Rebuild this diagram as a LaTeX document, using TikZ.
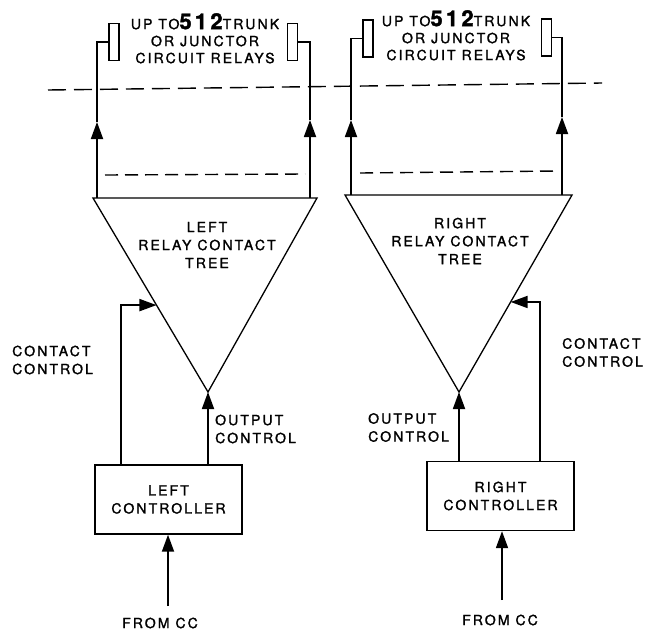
\documentclass[tikz,border=0pt]{standalone}
\usepackage{fontspec}
\setmainfont{TeX Gyre Heros}[LetterSpace=15,FakeBold=1.6]
\usetikzlibrary{arrows.meta,calc}
\tikzset{
  lbl/.style={font=\fontsize{14}{18}\selectfont, align=center, inner sep=0pt},
  wire/.style={line width=1.8pt},
  thinline/.style={line width=1.3pt, line join=miter},
  arr/.style={-{Triangle[length=17pt,width=12pt]}},
  relay/.style={draw, line width=1.4pt, minimum width=10pt, minimum height=37pt, inner sep=0pt},
  ctrlbox/.style={draw, line width=1.4pt, minimum width=147pt, minimum height=69pt, inner sep=0pt, font=\fontsize{14}{18}\selectfont, align=center},
  longdash/.style={line width=1.4pt, dash pattern=on 18pt off 8pt},
  shortdash/.style={line width=1.4pt, dash pattern=on 13pt off 7pt}
}
\newcommand{\bignum}[1]{{\fontsize{22}{22}\selectfont\bfseries #1}}
\begin{document}
\begin{tikzpicture}[x=1pt,y=-1pt]
\useasboundingbox (0,0) rectangle (647,635);

% ---------- LEFT ----------
\node[relay] (rl1) at (114,42) {};
\node[relay] (rl2) at (292.5,42) {};
\node[lbl, anchor=north, font=\fontsize{14}{17}\selectfont] (ltop) at (205,13) {UP TO\bignum{512}TRUNK\\OR JUNCTOR\\CIRCUIT RELAYS};

\coordinate (LT1) at (93,198);
\coordinate (LT2) at (317,198);
\coordinate (LA) at (208,392);
\draw[thinline] (LT1) -- (LT2) -- (LA) -- cycle;
\node[lbl] (ltree) at (207,245) {LEFT\\RELAY CONTACT\\TREE};

\coordinate (l1b) at (97,198);
\coordinate (l1t) at (97,122);
\coordinate (l2b) at (310,198);
\coordinate (l2t) at (310,120);
\draw[wire,arr] (l1b) -- (l1t);
\draw[wire] (l1t) |- (rl1.west);
\draw[wire,arr] (l2b) -- (l2t);
\draw[wire] (l2t) |- (rl2.east);

\coordinate (lsd1) at (105,175);
\coordinate (lsd2) at (305,174);
\draw[shortdash] (lsd1) -- (lsd2);

\node[ctrlbox] (lctrl) at (168.5,499.5) {LEFT\\CONTROLLER};
\coordinate (lccbase) at (121,465);
\coordinate (lcc) at ($(LT1)!0.552!(LA)$);
\draw[wire,arr] (lccbase) |- (lcc);
\draw[wire,arr] (lctrl.north -| LA) -- (LA);
\coordinate (lfrom) at (168,606);
\draw[wire,arr] (lfrom) -- (lctrl.south -| lfrom);
\node[lbl] (lfromtxt) at (160,623) {FROM CC};
\node[lbl, anchor=west, align=left] (lcctxt) at (12,360) {CONTACT\\CONTROL};
\node[lbl, anchor=west, align=left] (loctxt) at (215,429) {OUTPUT\\CONTROL};

% ---------- RIGHT ----------
\node[relay] (rr1) at (368,38.5) {};
\node[relay] (rr2) at (546.5,37.5) {};
\node[lbl, anchor=north, font=\fontsize{14}{17}\selectfont] (rtop) at (456,10) {UP TO\bignum{512}TRUNK\\OR JUNCTOR\\CIRCUIT RELAYS};

\coordinate (RT1) at (345,195);
\coordinate (RT2) at (572,195);
\coordinate (RA) at (459,392);
\draw[thinline] (RT1) -- (RT2) -- (RA) -- cycle;
\node[lbl] (rtree) at (460,241) {RIGHT\\RELAY CONTACT\\TREE};

\coordinate (r1b) at (351,195);
\coordinate (r1t) at (351,120);
\coordinate (r2b) at (562,195);
\coordinate (r2t) at (562,117);
\draw[wire,arr] (r1b) -- (r1t);
\draw[wire] (r1t) |- (rr1.west);
\draw[wire,arr] (r2b) -- (r2t);
\draw[wire] (r2t) |- (rr2.east);

\coordinate (rsd1) at (360,173);
\coordinate (rsd2) at (557,171);
\draw[shortdash] (rsd1) -- (rsd2);

\node[ctrlbox] (rctrl) at (500.5,496) {RIGHT\\CONTROLLER};
\coordinate (rccbase) at (540,461);
\coordinate (rcc) at ($(RT2)!0.543!(RA)$);
\draw[wire,arr] (rccbase) |- (rcc);
\draw[wire,arr] (rctrl.north -| RA) -- (RA);
\coordinate (rfrom) at (502,600);
\draw[wire,arr] (rfrom) -- (rctrl.south -| rfrom);
\node[lbl] (rfromtxt) at (500,620) {FROM CC};
\node[lbl, anchor=west, align=left] (rcctxt) at (562,352.5) {CONTACT\\CONTROL};
\node[lbl, anchor=west, align=left] (roctxt) at (368,427.5) {OUTPUT\\CONTROL};

% ---------- long dashed boundary ----------
\coordinate (dl) at (48,90);
\coordinate (dr) at (602,83);
\draw[longdash] (dl) -- (dr);
\end{tikzpicture}
\end{document}
